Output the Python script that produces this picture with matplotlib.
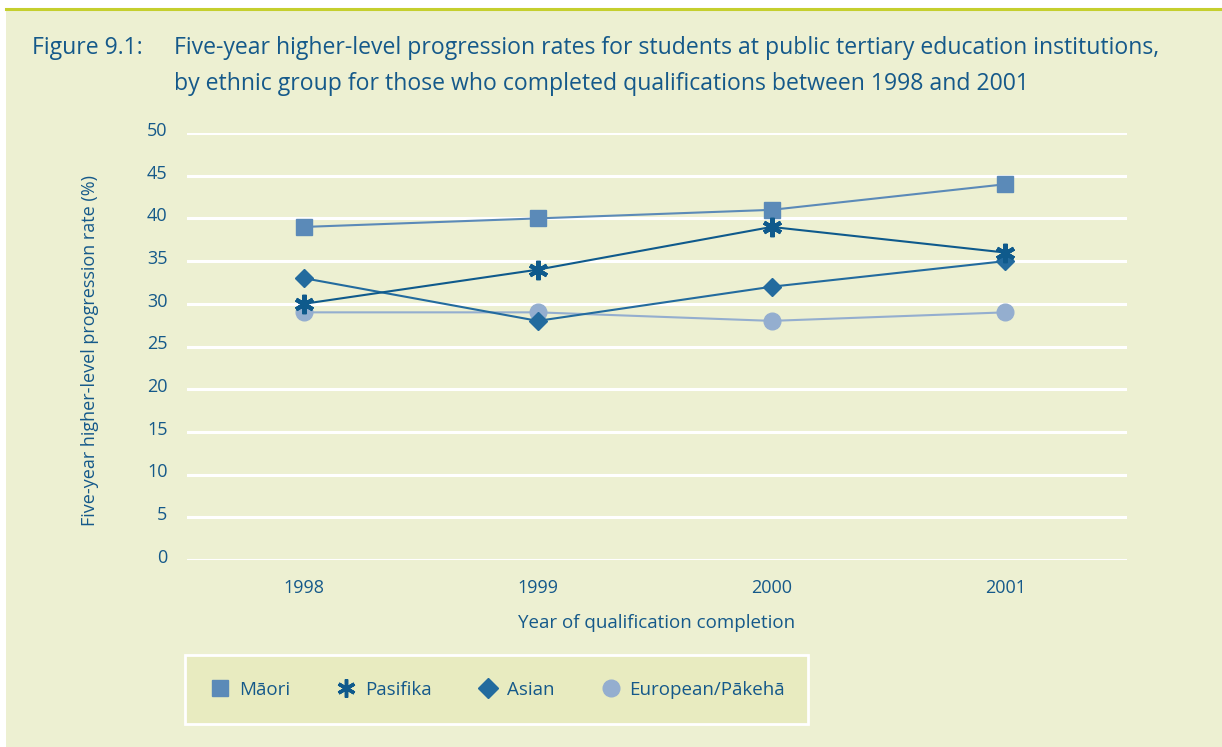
import matplotlib
matplotlib.use("Agg")
import matplotlib.pyplot as plt
from matplotlib.patches import Rectangle
from matplotlib.lines import Line2D
from matplotlib.transforms import ScaledTranslation

plt.rcParams['font.family'] = ['Open Sans', 'DejaVu Sans']

years = [1998, 1999, 2000, 2001]
maori = [39, 40, 41, 44]
pasifika = [30, 34, 39, 36]
asian = [33, 28, 32, 35]
european = [29, 29, 28, 29]
series_names = ["Māori", "Pasifika", "Asian", "European/Pākehā"]
yticks = [0, 5, 10, 15, 20, 25, 30, 35, 40, 45, 50]

TXT = '#15598A'
BG = '#EDF0D2'
c_maori = '#5B8AB8'
c_pas = '#0F5A8C'
c_asian = '#236B9E'
c_eur = '#94AECF'

W, H = 1222, 747
fig = plt.figure(figsize=(W/100, H/100), dpi=100, facecolor='white')
fig.patches.append(Rectangle((6/W, 0), 1-6/W, 1-8/H, transform=fig.transFigure,
                             facecolor=BG, edgecolor='none', zorder=-10))
fig.lines.append(Line2D([6/W, 1], [1-8.5/H, 1-8.5/H], transform=fig.transFigure,
                        color='#C5CF2E', lw=2.2))

ax = fig.add_axes([187/W, 1-560/H, (1127-187)/W, (560-133)/H])
ax.set_facecolor(BG)
ax.patch.set_alpha(0)
for s in ax.spines.values():
    s.set_visible(False)
ax.set_ylim(0, 50)
ax.set_xlim(1997.5, 2001.52)
ax.set_yticks(yticks)
ax.set_xticks(years)
ax.set_xticklabels([str(y) for y in years])
ax.grid(axis='y', color='white', lw=2.2)
ax.set_axisbelow(True)
ax.tick_params(axis='both', length=0, labelsize=13, labelcolor=TXT)
ax.tick_params(axis='y', pad=14)
ax.tick_params(axis='x', pad=14)
for lab in ax.get_yticklabels():
    lab.set_transform(lab.get_transform() + ScaledTranslation(0, 3/72, fig.dpi_scale_trans))

ax.plot(years, maori, color=c_maori, lw=1.5, marker='s', ms=12, mec=c_maori, mfc=c_maori, zorder=3)
ax.plot(years, pasifika, color=c_pas, lw=1.5, marker=(6, 2, 0), ms=14, mew=3, mec=c_pas, zorder=4)
ax.plot(years, asian, color=c_asian, lw=1.5, marker='D', ms=9, mec=c_asian, mfc=c_asian, zorder=3)
ax.plot(years, european, color=c_eur, lw=1.5, marker='o', ms=12, mec=c_eur, mfc=c_eur, zorder=2)

ax.set_xlabel("Year of qualification completion", fontsize=13.5, color=TXT, labelpad=12)
fig.text(90/W, 1-350/H, "Five-year higher-level progression rate (%)", rotation=90,
         fontsize=13, color=TXT, ha='center', va='center')

fig.text(32/W, 1-48/H, "Figure 9.1:", fontsize=16.6, color=TXT, ha='left', va='center')
fig.text(174/W, 1-48/H, "Five-year higher-level progression rates for students at public tertiary education institutions,",
         fontsize=16.6, color=TXT, ha='left', va='center')
fig.text(174/W, 1-84/H, "by ethnic group for those who completed qualifications between 1998 and 2001",
         fontsize=16.6, color=TXT, ha='left', va='center')

# legend box
fig.patches.append(Rectangle((185/W, 1-724/H), (808-185)/W, (724-655)/H, transform=fig.transFigure,
                             facecolor='#E8EBC0', edgecolor='white', lw=2, zorder=1))
handles = [
    Line2D([], [], ls='none', marker='s', ms=12, color=c_maori),
    Line2D([], [], ls='none', marker=(6, 2, 0), ms=13, mew=2.5, color=c_pas),
    Line2D([], [], ls='none', marker='D', ms=10, color=c_asian),
    Line2D([], [], ls='none', marker='o', ms=12, color=c_eur),
]
leg = fig.legend(handles, series_names, loc='center left', bbox_to_anchor=(194/W, 1-690/H),
                 ncol=4, frameon=False, fontsize=13.5, labelcolor=TXT, handlelength=1.0,
                 handletextpad=0.5, columnspacing=2.5)
leg.set_zorder(5)

fig.savefig("out.png", dpi=100, facecolor='white')
